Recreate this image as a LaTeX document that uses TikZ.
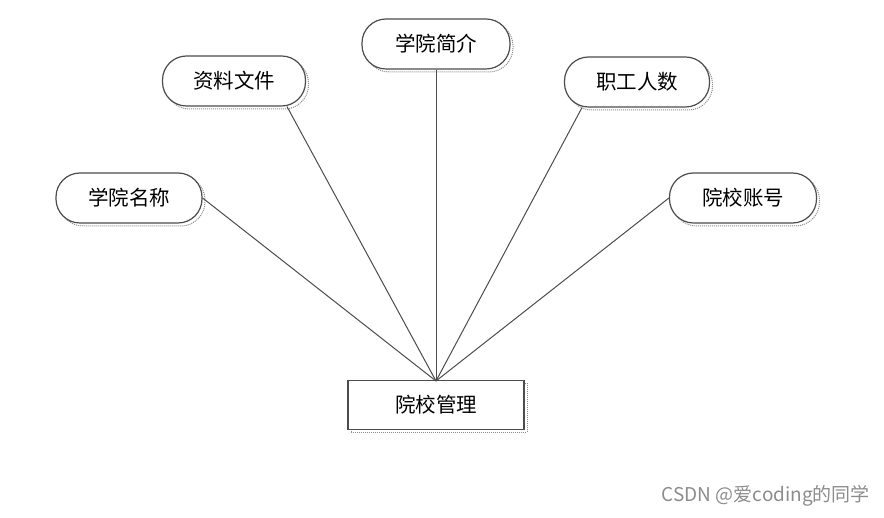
\documentclass[tikz,border=0pt]{standalone}
\usepackage{fontspec}
\setmainfont{Noto Sans CJK SC}
\usetikzlibrary{shadows}
\begin{document}
\begin{tikzpicture}[x=1pt,y=-1pt,
  attr/.style={draw=black!70, line width=1.2pt, fill=white, rounded corners=24pt,
    minimum width=146pt, minimum height=50pt, inner sep=0pt,
    font=\fontsize{20.5}{22}\selectfont,
    drop shadow={shadow xshift=3pt, shadow yshift=-3pt, fill=none, draw=black!45, densely dotted, line width=1pt, opacity=1}},
  ent/.style={draw=black!70, line width=1.2pt, fill=white,
    minimum width=176pt, minimum height=49pt, inner sep=0pt,
    font=\fontsize{20.5}{22}\selectfont,
    drop shadow={shadow xshift=3pt, shadow yshift=-3pt, fill=none, draw=black!45, densely dotted, line width=1pt, opacity=1}},
  link/.style={draw=black!70, line width=1pt}]
\useasboundingbox (0,0) rectangle (884,518);
\node[ent] (m) at (436,405) {院校管理};
\coordinate (hub) at (436,381);
\node[attr] (a1) at (129,198) {学院名称};
\node[attr,minimum width=143pt] (a2) at (234,81) {资料文件};
\node[attr,minimum width=148pt] (a3) at (436,44) {学院简介};
\node[attr,minimum width=145pt] (a4) at (637,82) {职工人数};
\node[attr,minimum width=147pt] (a5) at (743,198) {院校账号};
\draw[link] (a1.east) -- (hub);
\draw[link] ([xshift=53pt]a2.south) -- (hub);
\draw[link] (a3.south) -- (hub);
\draw[link] ([xshift=-55pt]a4.south) -- (hub);
\draw[link] (a5.west) -- (hub);
\node[text=black!45, font=\fontsize{19}{21}\selectfont, anchor=east, inner sep=0pt] (wm) at (870,496) {CSDN @爱coding的同学};
\end{tikzpicture}
\end{document}
